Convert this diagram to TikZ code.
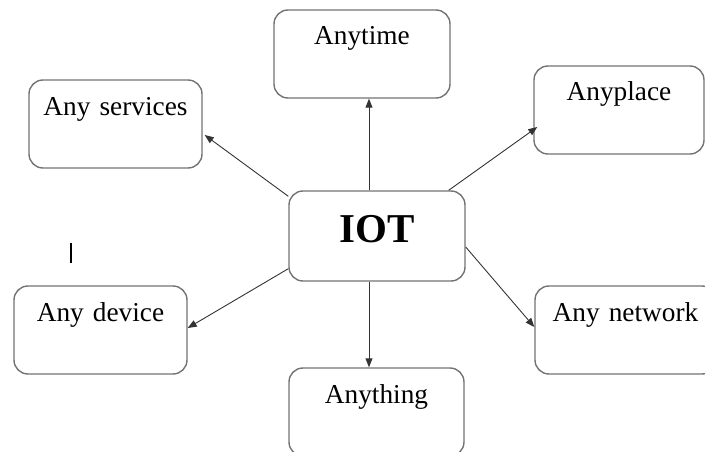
\documentclass[tikz,border=0pt]{standalone}
\usepackage{fontspec}
\setmainfont{Liberation Serif}
\usetikzlibrary{arrows.meta}

\begin{document}
\begin{tikzpicture}[x=1pt,y=-1pt,
    thing/.style={draw=black!55, line width=1.4pt, rounded corners=14pt, inner sep=0pt,
      text width=#1, align=center, text height=35pt, text depth=53pt,
      font=\fontsize{27.3}{30}\selectfont},
    thing/.default=173pt,
    link/.style={draw=black!80, line width=0.9pt, -{Triangle[length=9pt,width=7pt]}}]
  \useasboundingbox (0,0) rectangle (705,452);
  \clip (0,0) rectangle (705,452);

  % centre box
  \node[thing=176pt, text height=51pt, text depth=39pt,
        font=\fontsize{41}{44}\selectfont\bfseries] (iot) at (377,236) {IOT};

  % the six "any" boxes round it
  \node[thing=176pt] (anytime) at (362,54) {Anytime};
  \node[thing=173pt] (services) at (115.5,124) {Any services};
  \node[thing=170pt] (anyplace) at (619,110) {Anyplace};
  \node[thing=173pt] (device) at (100.5,330) {Any device};
  \node[thing=181pt] (network) at (625.5,330) {Any network};
  \node[thing=175pt] (anything) at (376.5,412) {Anything};

  \draw[link] ([xshift=-8pt]iot.north) -- ([xshift=7pt]anytime.south);
  \draw[link] ([yshift=-6pt]iot.north west) -- ([xshift=2pt,yshift=-11pt]services.east);
  \draw[link] ([xshift=-17pt]iot.north east) -- ([xshift=4pt,yshift=-17pt]anyplace.west);
  \draw[link] ([yshift=13pt]iot.south west) -- ([yshift=2pt]device.east);
  \draw[link] ([yshift=-11pt]iot.east) -- ([yshift=3pt]network.west);
  \draw[link] ([xshift=-8pt]iot.south) -- ([xshift=-7.5pt]anything.north);

  % small stray bar on the left
  \draw[line width=2pt] (71,243) -- (71,263);
\end{tikzpicture}
\end{document}
